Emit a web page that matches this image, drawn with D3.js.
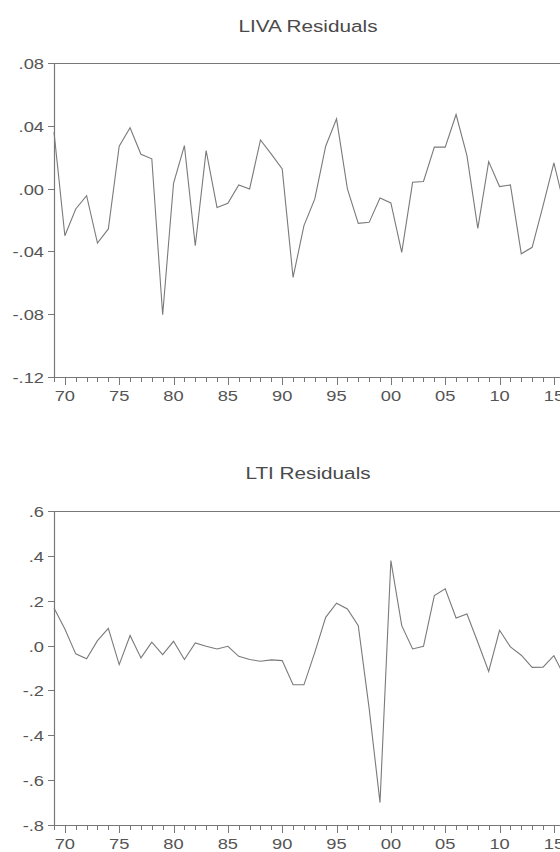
<!DOCTYPE html>
<html>
<head>
<meta charset="utf-8">
<script src="https://cdn.jsdelivr.net/npm/d3@7"></script>
<style>
  html, body { margin: 0; padding: 0; background: #fff; }
  svg { display: block; }
  text { font-family: "Liberation Sans", Arial, sans-serif; fill: #555; }
</style>
</head>
<body>
<svg id="chart" width="560" height="852"></svg>
<script>
// ---- data ----
const years = [1969,1970,1971,1972,1973,1974,1975,1976,1977,1978,1979,1980,1981,1982,1983,1984,
  1985,1986,1987,1988,1989,1990,1991,1992,1993,1994,1995,1996,1997,1998,1999,2000,2001,2002,2003,
  2004,2005,2006,2007,2008,2009,2010,2011,2012,2013,2014,2015,2016];

const livaResiduals = [0.036,-0.030,-0.013,-0.0045,-0.0347,-0.0257,0.027,0.0387,0.0219,0.019,
  -0.0804,0.0034,0.0274,-0.0364,0.0242,-0.012,-0.0093,0.0023,-0.0002,0.031,0.022,0.0125,
  -0.0566,-0.0236,-0.0066,0.027,0.0444,-0.0002,-0.0221,-0.0215,-0.006,-0.0091,-0.0406,0.004,
  0.0045,0.0264,0.0264,0.0472,0.021,-0.0253,0.0172,0.0013,0.0023,-0.0415,-0.0374,-0.011,
  0.0164,-0.012];

const ltiResiduals = [0.168,0.074,-0.037,-0.059,0.022,0.077,-0.085,0.045,-0.055,0.015,-0.040,
  0.019,-0.062,0.012,-0.003,-0.015,-0.003,-0.048,-0.062,-0.070,-0.064,-0.067,-0.175,-0.175,
  -0.030,0.126,0.189,0.163,0.089,-0.28,-0.70,0.379,0.089,-0.015,-0.003,0.223,0.253,0.123,
  0.141,0.015,-0.115,0.068,-0.006,-0.043,-0.097,-0.096,-0.045,-0.14];

const xMajorTicks = [1970,1975,1980,1985,1990,1995,2000,2005,2010,2015];
const xTickLabels = ["70","75","80","85","90","95","00","05","10","15"];

const livaTicks = [-0.12,-0.08,-0.04,0.00,0.04,0.08];
const livaTickLabels = ["-.12","-.08","-.04",".00",".04",".08"];
const ltiTicks = [-0.8,-0.6,-0.4,-0.2,0.0,0.2,0.4,0.6];
const ltiTickLabels = ["-.8","-.6","-.4","-.2",".0",".2",".4",".6"];

const titles = ["LIVA Residuals", "LTI Residuals"];

// ---- drawing ----
const svg = d3.select("#chart");
const SX = 1.22;            // horizontal stretch of the source image
const lineColor = "#7a7a7a";
const axisColor = "#777";

const x = d3.scaleLinear().domain([1969, 2016]).range([54, 54 + 47 * 10.867]);

function panel(opts) {
  const { top, bottom, domain, ticks, labels, values, title, titleY } = opts;
  const y = d3.scaleLinear().domain(domain).range([bottom, top]);
  const g = svg.append("g");

  // title
  g.append("text")
    .attr("transform", `translate(308,${titleY}) scale(${SX},1)`)
    .attr("text-anchor", "middle")
    .style("font-size", "17px")
    .style("fill", "#4a4a4a")
    .text(title);

  // frame: top border, left axis, bottom axis
  const x0 = x.range()[0], x1 = x.range()[1];
  g.append("line").attr("x1", x0).attr("x2", x1).attr("y1", top + 0.5).attr("y2", top + 0.5)
    .attr("stroke", axisColor).attr("stroke-width", 1.2);
  g.append("line").attr("x1", x0 + 0.5).attr("x2", x0 + 0.5).attr("y1", top).attr("y2", bottom)
    .attr("stroke", axisColor).attr("stroke-width", 1.2);
  g.append("line").attr("x1", x0).attr("x2", x1).attr("y1", bottom + 0.5).attr("y2", bottom + 0.5)
    .attr("stroke", axisColor).attr("stroke-width", 1.2);

  // y ticks + labels
  ticks.forEach((t, i) => {
    const yy = Math.round(y(t)) + 0.5;
    g.append("line").attr("x1", x0 - 6).attr("x2", x0).attr("y1", yy).attr("y2", yy)
      .attr("stroke", axisColor);
    g.append("text")
      .attr("transform", `translate(44,${yy + 5}) scale(${SX},1)`)
      .attr("text-anchor", "end")
      .style("font-size", "15px")
      .text(labels[i]);
  });

  // x minor ticks (every year) and major ticks
  years.forEach(yr => {
    const xx = Math.round(x(yr)) + 0.5;
    const major = xMajorTicks.includes(yr);
    g.append("line").attr("x1", xx).attr("x2", xx)
      .attr("y1", bottom).attr("y2", bottom + (major ? 8 : 5))
      .attr("stroke", axisColor);
  });
  xMajorTicks.forEach((yr, i) => {
    g.append("text")
      .attr("transform", `translate(${x(yr)},${bottom + 24}) scale(${SX},1)`)
      .attr("text-anchor", "middle")
      .style("font-size", "15px")
      .text(xTickLabels[i]);
  });

  // series line
  const line = d3.line().x((d, i) => x(years[i])).y(d => y(d));
  g.append("path").datum(values)
    .attr("d", line)
    .attr("fill", "none")
    .attr("stroke", lineColor)
    .attr("stroke-width", 1.1)
    .attr("stroke-linejoin", "miter");
}

panel({ top: 63, bottom: 377, domain: [-0.12, 0.08], ticks: livaTicks, labels: livaTickLabels,
        values: livaResiduals, title: titles[0], titleY: 32 });
panel({ top: 511, bottom: 825, domain: [-0.8, 0.6], ticks: ltiTicks, labels: ltiTickLabels,
        values: ltiResiduals, title: titles[1], titleY: 479 });
</script>
</body>
</html>
